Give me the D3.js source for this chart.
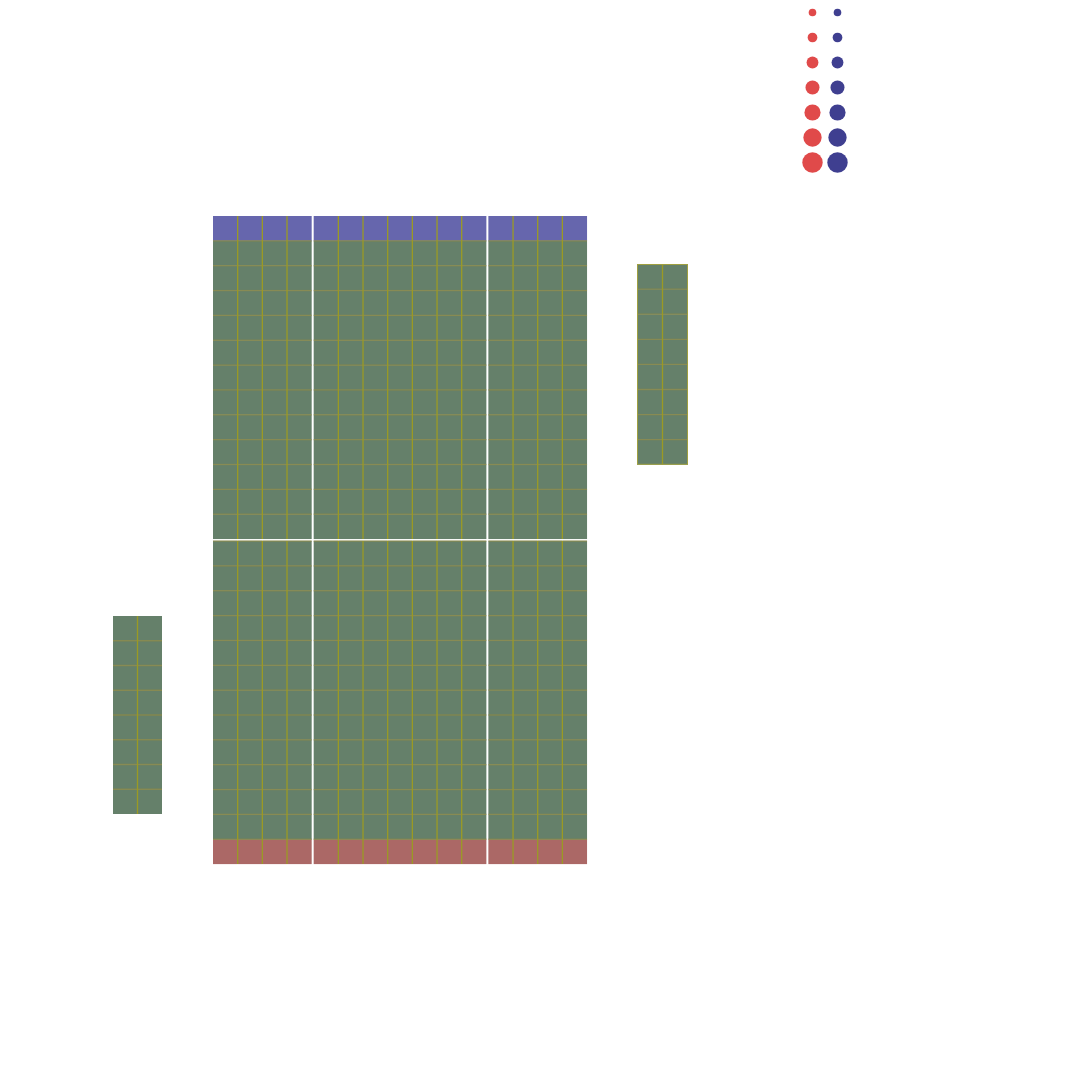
<!DOCTYPE html>
<html><head><meta charset="utf-8">
<script src="https://cdn.jsdelivr.net/npm/d3@7"></script>
<style>body{margin:0;background:#fff}svg{display:block}</style>
</head><body>
<script>
// ---- data ----
const mainCols = ["c1","c2","c3","c4","c5","c6","c7","c8","c9","c10","c11","c12","c13","c14","c15"];
const colGroups = [4, 7, 4];
const mainRows = ["r1","r2","r3","r4","r5","r6","r7","r8","r9","r10","r11","r12","r13","r14","r15","r16","r17","r18","r19","r20","r21","r22","r23","r24"];
const rowGroups = [12, 12];
const cellValue = 1; // every cell shows the same value
const topAnno = mainCols.map(() => "A");
const bottomAnno = mainCols.map(() => "B");
const leftCols = ["l1","l2"];
const leftRows = ["lr1","lr2","lr3","lr4","lr5","lr6","lr7","lr8"];
const rightCols = ["k1","k2"];
const rightRows = ["kr1","kr2","kr3","kr4","kr5","kr6","kr7","kr8"];
const legendSizes = [1, 2, 3, 4, 5, 6, 7];
const legendSeries = ["red", "blue"];

// ---- drawing ----
const W = 1080, H = 1080;
const svg = d3.select("body").append("svg").attr("width", W).attr("height", H);
const green = "#65806a", lineV = "#9a9a24", lineH = "#88884a";
const annoColor = d3.scaleOrdinal().domain(["A","B"]).range(["#6666ad","#ab6866"]);
const dotColor = d3.scaleOrdinal().domain(legendSeries).range(["#e04a4a","#3f3f90"]);

function groupedPositions(n, groups, start, size, gap) {
  const pos = []; let x = start;
  groups.forEach(g => { for (let k = 0; k < g; k++) { pos.push(x); x += size; } x += gap; });
  return pos;
}
const cw = 24.67, ch = 24.85, gap = 2;
const colX = groupedPositions(mainCols.length, colGroups, 213, cw, gap);
const xMain = d3.scaleOrdinal().domain(mainCols).range(colX);
const mainTop = 216 + ch;
const rowY = groupedPositions(mainRows.length, rowGroups, mainTop, ch, gap);
const yMain = d3.scaleOrdinal().domain(mainRows).range(rowY);
const valColor = d3.scaleOrdinal().domain([cellValue]).range([green]);

const g = svg.append("g");
g.selectAll("rect.top").data(mainCols).join("rect")
  .attr("x", d => xMain(d)).attr("y", 216).attr("width", cw).attr("height", ch)
  .attr("fill", (d, i) => annoColor(topAnno[i]));
const bottomY = rowY[rowY.length - 1] + ch;
g.selectAll("rect.bot").data(mainCols).join("rect")
  .attr("x", d => xMain(d)).attr("y", bottomY).attr("width", cw).attr("height", ch)
  .attr("fill", (d, i) => annoColor(bottomAnno[i]));
const cells = [];
mainRows.forEach(r => mainCols.forEach(c => cells.push({r, c, v: cellValue})));
g.selectAll("rect.cell").data(cells).join("rect")
  .attr("x", d => xMain(d.c)).attr("y", d => yMain(d.r)).attr("width", cw).attr("height", ch)
  .attr("fill", d => valColor(d.v));
const hLines = mainRows.map(r => yMain(r)).concat([bottomY]);
mainCols.forEach(c => {
  hLines.forEach(y => g.append("line").attr("x1", xMain(c)).attr("x2", xMain(c) + cw)
    .attr("y1", y).attr("y2", y).attr("stroke", lineH).attr("stroke-width", 1.3).attr("opacity", 0.85));
});
let ci = 0;
colGroups.forEach(gs => {
  for (let k = 1; k < gs; k++) {
    const x = xMain(mainCols[ci + k]);
    [[216, rowY[11] + ch], [rowY[12], bottomY + ch]].forEach(([a, b]) =>
      g.append("line").attr("x1", x).attr("x2", x).attr("y1", a).attr("y2", b)
        .attr("stroke", lineV).attr("stroke-width", 1.3));
  }
  ci += gs;
});

function block(cols, rows, x0, y0, w, h, border) {
  const xs = d3.scaleBand().domain(cols).range([x0, x0 + w * cols.length]);
  const ys = d3.scaleBand().domain(rows).range([y0, y0 + h * rows.length]);
  const data = [];
  rows.forEach(r => cols.forEach(c => data.push({r, c, v: cellValue})));
  const bg = svg.append("g");
  bg.selectAll("rect").data(data).join("rect")
    .attr("x", d => xs(d.c)).attr("y", d => ys(d.r)).attr("width", xs.bandwidth()).attr("height", ys.bandwidth())
    .attr("fill", d => valColor(d.v));
  rows.slice(1).forEach(r => bg.append("line").attr("x1", x0).attr("x2", x0 + w * cols.length)
    .attr("y1", ys(r)).attr("y2", ys(r)).attr("stroke", lineH).attr("stroke-width", 1.3).attr("opacity", 0.85));
  cols.slice(1).forEach(c => bg.append("line").attr("x1", xs(c)).attr("x2", xs(c))
    .attr("y1", y0).attr("y2", y0 + h * rows.length).attr("stroke", lineV).attr("stroke-width", 1.3));
  if (border) bg.append("rect").attr("x", x0 + 0.5).attr("y", y0 + 0.5)
    .attr("width", w * cols.length - 1).attr("height", h * rows.length - 1)
    .attr("fill", "none").attr("stroke", "#a0a040").attr("stroke-width", 1);
}
block(leftCols, leftRows, 113, 616, 24.5, 24.75, false);
block(rightCols, rightRows, 637, 264, 25.5, 25.1, true);

const rScale = d3.scaleLinear().domain([1, 7]).range([3.8, 10.2]);
const yLeg = d3.scalePoint().domain(legendSizes).range([12.5, 162.5]);
const xLeg = d3.scalePoint().domain(legendSeries).range([812.5, 837.5]);
legendSeries.forEach(s => {
  svg.append("g").selectAll("circle").data(legendSizes).join("circle")
    .attr("cx", xLeg(s)).attr("cy", d => yLeg(d)).attr("r", d => rScale(d))
    .attr("fill", dotColor(s));
});
</script>
</body></html>
